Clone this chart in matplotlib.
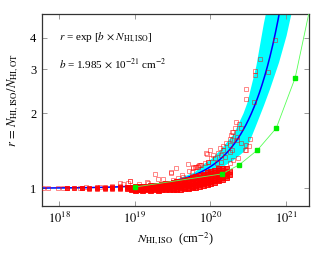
import numpy as np
import matplotlib
matplotlib.use("Agg")
import matplotlib.pyplot as plt
from matplotlib.ticker import FixedLocator, NullLocator, FixedFormatter

plt.rcParams['font.family'] = ['Liberation Serif', 'DejaVu Serif']
plt.rcParams['mathtext.fontset'] = 'stix'

# ---- data ----
b_coef = 1.985e-21
x_range = [5.9e17, 2.0e21]
y_range = [0.85, 5.0]
xticks = [1e18, 1e19, 1e20, 1e21]
xtick_labels = [r'$10^{18}$', r'$10^{19}$', r'$10^{20}$', r'$10^{21}$']
yticks = [1, 2, 3, 4]
ytick_labels = ['1', '2', '3', '4']

# uncertainty band
band_logN = [17.7, 18.0, 19.0, 19.48, 19.78, 19.9, 20.0, 20.12, 20.3, 20.43, 20.48, 20.6, 20.7, 20.78, 20.9, 21.0, 21.11]
band_hi = [1.001, 1.002, 1.022, 1.07, 1.16, 1.25, 1.31, 1.42, 1.65, 2.0, 2.2, 3.1, 4.6, 6.0, 7.0, 7.0, 7.0]
band_lo = [0.999, 0.998, 1.015, 1.045, 1.09, 1.12, 1.15, 1.20, 1.30, 1.40, 1.46, 1.80, 2.15, 2.5, 3.2, 4.1, 5.8]

# green reference curve
green_logN = [19.0, 20.15, 20.38, 20.62, 20.87, 21.12, 21.36]
green_r = [1.01, 1.14, 1.24, 1.42, 1.74, 2.77, 6.1]

# scattered red points (log10 N, r)
scat_logN = [20.85, 20.652, 20.595, 20.595, 20.758, 20.476, 20.476, 20.577,
             20.335, 20.378, 20.33, 20.40, 20.29, 20.265, 20.255, 20.278, 20.344,
             20.21, 20.167, 20.12, 20.167, 20.476, 20.52, 20.51, 20.255, 20.10,
             19.99, 19.947, 20.034, 20.013, 19.968, 19.925, 19.86, 19.815, 19.77,
             20.30, 20.365, 20.19, 20.145, 20.255,
             19.95, 19.70, 19.48, 19.55, 19.83, 19.27, 19.48, 18.93, 19.37, 19.17,
             19.77, 19.83, 18.80, 19.16,
             17.78, 17.85, 17.98, 18.05, 18.10, 18.27, 18.36, 18.54, 18.70, 18.80,
             18.84, 18.91, 18.94,
             20.30, 20.344, 20.41, 20.255, 20.278, 20.145, 20.057, 19.968, 19.88,
             20.08, 20.454, 20.476,
             19.505, 19.57, 19.64, 19.75, 19.79, 19.845, 19.30, 19.62, 19.05, 19.72]
scat_r = [3.93, 3.30, 2.95, 2.84, 2.93, 2.50, 2.27, 2.22,
          1.84, 1.81, 1.74, 1.74, 1.68, 1.63, 1.58, 1.56, 1.56,
          1.51, 1.475, 1.443, 1.42, 1.42, 1.58, 1.475, 1.40, 1.377,
          1.42, 1.38, 1.358, 1.316, 1.276, 1.256, 1.237, 1.218, 1.20,
          1.295, 1.316, 1.336, 1.276, 1.256,
          1.37, 1.25, 1.15, 1.20, 1.22, 1.135, 1.156, 1.07, 1.087, 1.05,
          1.21, 1.23, 1.045, 1.06,
          1.0, 1.0, 1.002, 1.001, 1.003, 1.004, 1.006, 1.01, 1.02, 1.02,
          1.035, 1.045, 1.07,
          1.68, 1.607, 1.51, 1.488, 1.42, 1.358, 1.316, 1.276, 1.237,
          1.256, 1.42, 1.488,
          1.077, 1.094, 1.11, 1.16, 1.218, 1.237, 1.09, 1.13, 1.04, 1.17]

# thin run of red points below 10^19 (log10 N -> r values)
low_cols = {
    18.1: [0.999, 1.002],
    18.2: [0.998, 1.002],
    18.3: [0.997, 1.001, 1.004],
    18.4: [0.996, 1.000, 1.005],
    18.5: [0.995, 0.999, 1.004, 1.007],
    18.6: [0.994, 0.999, 1.004, 1.008],
    18.7: [0.993, 0.998, 1.003, 1.008, 1.011],
    18.8: [0.992, 0.997, 1.002, 1.007, 1.012],
    18.9: [0.991, 0.996, 1.001, 1.006, 1.012, 1.015],
}

# dense red points (log10 N -> r values)
dense_cols = {
    18.95: [0.989, 0.997, 1.004, 1.011],
    19.0: [0.987, 0.993, 0.999, 1.005, 1.011, 1.017],
    19.05: [0.988, 0.996, 1.003, 1.010, 1.018],
    19.1: [0.987, 0.994, 1.001, 1.008, 1.015, 1.022],
    19.15: [0.989, 0.997, 1.005, 1.013, 1.021],
    19.2: [0.987, 0.995, 1.003, 1.011, 1.019, 1.027],
    19.25: [0.988, 0.997, 1.006, 1.015, 1.024, 1.031],
    19.3: [0.987, 0.996, 1.005, 1.014, 1.023, 1.033],
    19.35: [0.989, 0.998, 1.008, 1.018, 1.028, 1.038],
    19.4: [0.988, 0.998, 1.008, 1.018, 1.029, 1.040, 1.047],
    19.45: [0.990, 1.000, 1.011, 1.022, 1.033, 1.045, 1.052],
    19.5: [0.991, 1.002, 1.013, 1.025, 1.037, 1.049, 1.060],
    19.55: [0.993, 1.004, 1.016, 1.028, 1.041, 1.054, 1.065],
    19.6: [0.995, 1.007, 1.019, 1.032, 1.045, 1.058, 1.072],
    19.65: [0.998, 1.010, 1.023, 1.036, 1.050, 1.064, 1.080],
    19.7: [1.002, 1.014, 1.027, 1.041, 1.056, 1.071, 1.088],
    19.75: [1.008, 1.020, 1.033, 1.047, 1.062, 1.078, 1.096, 1.110],
    19.8: [1.015, 1.027, 1.040, 1.054, 1.069, 1.086, 1.104, 1.120],
    19.85: [1.024, 1.036, 1.049, 1.063, 1.078, 1.095, 1.113, 1.130],
    19.9: [1.033, 1.045, 1.058, 1.072, 1.088, 1.105, 1.124, 1.143],
    19.95: [1.042, 1.054, 1.068, 1.083, 1.099, 1.117, 1.136, 1.156],
    20.0: [1.051, 1.064, 1.078, 1.094, 1.111, 1.129, 1.149, 1.170],
    20.05: [1.062, 1.075, 1.090, 1.106, 1.124, 1.143, 1.163, 1.185],
    20.1: [1.073, 1.087, 1.103, 1.120, 1.138, 1.158, 1.180, 1.203],
    20.15: [1.090, 1.105, 1.122, 1.140, 1.160, 1.182, 1.205],
    20.2: [1.11, 1.13, 1.15, 1.175, 1.20],
    20.24: [1.14, 1.17],
}

# ---- figure ----
fig = plt.figure(figsize=(3.3, 2.54), dpi=100)
ax = fig.add_axes([0.127, 0.190, 0.809, 0.756])
ax.set_xscale('log')
ax.set_yscale('log')
ax.set_xlim(*x_range)
ax.set_ylim(*y_range)

bN = 10 ** np.array(band_logN)
ax.fill_between(bN, band_lo, band_hi, color='#00ffff', lw=0, zorder=1)

Nc = np.logspace(np.log10(x_range[0]), np.log10(x_range[1]), 400)
ax.plot(Nc, np.exp(b_coef * Nc), color='#0000ff', lw=1.1, zorder=2)


def flatten(cols):
    xs, ys = [], []
    for k, v in cols.items():
        for rv in v:
            xs.append(10 ** k)
            ys.append(rv)
    return xs, ys


lN, lr = flatten(low_cols)
ax.plot(lN, lr, ls='none', marker='s', ms=2.4, mfc=(1, 0, 0, 0.6), mec=(1, 0, 0, 0.7),
        mew=0.5, zorder=3)
dN, dr = flatten(dense_cols)
ax.plot(dN, dr, ls='none', marker='s', ms=3.6, mfc=(1, 0, 0, 0.75), mec=(1, 0, 0, 0.9),
        mew=0.7, zorder=3)
ax.plot(10 ** np.array(scat_logN), scat_r, ls='none', marker='s', ms=3.0, mfc='none',
        mec=(1, 0, 0, 0.55), mew=0.6, zorder=3)

ax.plot(10 ** np.array(green_logN), green_r, color='#55ff55', lw=0.6, marker='s',
        ms=2.4, mfc='#00ee00', mec='#00ee00', zorder=4, clip_on=True)

ax.xaxis.set_major_locator(FixedLocator(xticks))
ax.xaxis.set_major_formatter(FixedFormatter(xtick_labels))
ax.xaxis.set_minor_locator(NullLocator())
ax.yaxis.set_major_locator(FixedLocator(yticks))
ax.yaxis.set_major_formatter(FixedFormatter(ytick_labels))
ax.yaxis.set_minor_locator(NullLocator())
ax.tick_params(which='major', direction='in', top=True, right=True, length=3.5,
               width=0.6, color='#888888', labelsize=9, pad=4)

for s in ax.spines.values():
    s.set_color('#333333')
    s.set_linewidth(0.9)

ax.set_xlabel(r'$N_{\mathrm{HI,ISO}}$  (cm$^{-2}$)', fontsize=8.8, labelpad=3)
ax.set_ylabel(r'$r\,=\,N_{\mathrm{HI,ISO}}/N_{\mathrm{HI,OT}}$', fontsize=9)
ax.yaxis.set_label_coords(-0.08, 0.55)

ax.text(0.065, 0.875, r'$r$ = exp [$b$ $\times$ $N_{\mathrm{HI,ISO}}$]', transform=ax.transAxes,
        fontsize=8, va='center', ha='left')
ax.text(0.065, 0.745, r'$b$ = 1.985 $\times$ 10$^{-21}$ cm$^{-2}$', transform=ax.transAxes,
        fontsize=8, va='center', ha='left')

fig.savefig('out.png', dpi=100)
